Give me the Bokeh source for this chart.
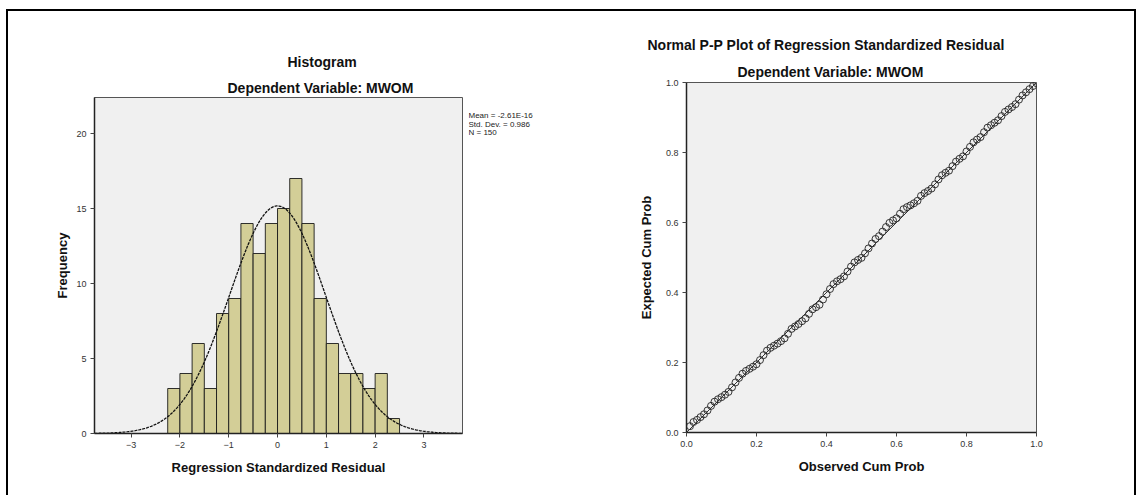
import numpy as np
from bokeh.plotting import figure
from bokeh.layouts import row, column
from bokeh.models import (Slope, FixedTicker, Range1d, Title, Label,
                          PrintfTickFormatter, Spacer)
from bokeh.embed import file_html
from bokeh.resources import INLINE

# ---------------- data ----------------
bin_starts = [-2.25, -2.0, -1.75, -1.5, -1.25, -1.0, -0.75, -0.5, -0.25, 0.0,
              0.25, 0.5, 0.75, 1.0, 1.25, 1.5, 1.75, 2.0, 2.25]
bin_width = 0.25
counts = [3, 4, 6, 3, 8, 9, 14, 12, 14, 15, 17, 14, 9, 6, 4, 4, 3, 4, 1]
resid_mean = 0.0
resid_sd = 0.986
n_obs = 150
legend_lines = ["Mean = -2.61E-16", "Std. Dev. = 0.986", "N = 150"]
hist_xticks = [-3, -2, -1, 0, 1, 2, 3]
hist_yticks = [0, 5, 10, 15, 20]

observed_cum = [0.01, 0.02, 0.03, 0.04, 0.05, 0.06, 0.07, 0.08, 0.09, 0.10,
                0.11, 0.12, 0.13, 0.14, 0.15, 0.16, 0.17, 0.18, 0.19, 0.20,
                0.21, 0.22, 0.23, 0.24, 0.25, 0.26, 0.27, 0.28, 0.29, 0.30,
                0.31, 0.32, 0.33, 0.34, 0.35, 0.36, 0.37, 0.38, 0.39, 0.40,
                0.41, 0.42, 0.43, 0.44, 0.45, 0.46, 0.47, 0.48, 0.49, 0.50,
                0.51, 0.52, 0.53, 0.54, 0.55, 0.56, 0.57, 0.58, 0.59, 0.60,
                0.61, 0.62, 0.63, 0.64, 0.65, 0.66, 0.67, 0.68, 0.69, 0.70,
                0.71, 0.72, 0.73, 0.74, 0.75, 0.76, 0.77, 0.78, 0.79, 0.80,
                0.81, 0.82, 0.83, 0.84, 0.85, 0.86, 0.87, 0.88, 0.89, 0.90,
                0.91, 0.92, 0.93, 0.94, 0.95, 0.96, 0.97, 0.98, 0.99, 1.00]
expected_cum = [0.018, 0.030, 0.036, 0.044, 0.052, 0.063, 0.076, 0.088, 0.095, 0.101,
                0.108, 0.116, 0.129, 0.143, 0.156, 0.168, 0.176, 0.182, 0.188, 0.195,
                0.207, 0.221, 0.234, 0.242, 0.248, 0.254, 0.261, 0.269, 0.282, 0.296,
                0.303, 0.310, 0.318, 0.326, 0.339, 0.352, 0.358, 0.365, 0.380, 0.395,
                0.410, 0.424, 0.432, 0.438, 0.446, 0.460, 0.474, 0.486, 0.493, 0.499,
                0.512, 0.526, 0.540, 0.553, 0.561, 0.574, 0.587, 0.599, 0.606, 0.612,
                0.625, 0.638, 0.644, 0.649, 0.655, 0.662, 0.676, 0.684, 0.690, 0.697,
                0.709, 0.723, 0.735, 0.742, 0.748, 0.761, 0.774, 0.782, 0.789, 0.803,
                0.816, 0.829, 0.837, 0.844, 0.858, 0.871, 0.878, 0.885, 0.892, 0.904,
                0.916, 0.923, 0.930, 0.938, 0.951, 0.963, 0.972, 0.981, 0.990, 0.998]
pp_ticks = [0.0, 0.2, 0.4, 0.6, 0.8, 1.0]

FONT = "Liberation Sans"
BG = "#f0f0f0"
BAR = "#d3ce97"


def style_axes(p):
    for ax in (p.xaxis[0], p.yaxis[0]):
        ax.axis_line_color = "#222222"
        ax.axis_line_width = 1.5
        ax.major_tick_line_color = "#444444"
        ax.major_tick_out = 4
        ax.major_tick_in = 0
        ax.minor_tick_line_color = None
        ax.major_label_text_font = FONT
        ax.major_label_text_font_size = "9px"
        ax.major_label_text_color = "#333333"
        ax.major_label_standoff = 4
        ax.axis_label_text_font = FONT
        ax.axis_label_text_font_size = "13px"
        ax.axis_label_text_font_style = "bold"
        ax.axis_label_text_color = "#111111"
    p.grid.visible = False
    p.background_fill_color = BG
    p.border_fill_color = "white"
    p.outline_line_color = "#555555"
    p.outline_line_width = 1


def add_titles(p, main, sub, main_off, sub_off, sub_stand, main_stand):
    p.add_layout(Title(text=sub, align="left", offset=sub_off, standoff=sub_stand,
                       text_font=FONT, text_font_size="14px", text_font_style="bold",
                       text_color="#111111"), "above")
    p.add_layout(Title(text=main, align="left", offset=main_off, standoff=main_stand,
                       text_font=FONT, text_font_size="14px", text_font_style="bold",
                       text_color="#111111"), "above")


# ---------------- histogram ----------------
p1 = figure(width=460, height=469, output_backend="svg", toolbar_location=None,
            x_range=Range1d(-3.75, 3.79), y_range=Range1d(0, 22.4),
            min_border_left=86, min_border_right=6, min_border_top=71,
            min_border_bottom=62)
style_axes(p1)
left = np.array(bin_starts)
p1.quad(left=left, right=left + bin_width, bottom=0, top=counts,
        fill_color=BAR, line_color="#1a1a1a", line_width=0.9)

xs = np.linspace(-3.75, 3.79, 300)
pdf = n_obs * bin_width * np.exp(-0.5 * ((xs - resid_mean) / resid_sd) ** 2) / (resid_sd * np.sqrt(2 * np.pi))
p1.line(xs, pdf, line_color="#111111", line_width=1.3, line_dash="3 1")

p1.xaxis.ticker = FixedTicker(ticks=hist_xticks)
p1.yaxis.ticker = FixedTicker(ticks=hist_yticks)
p1.xaxis.axis_label = "Regression Standardized Residual"
p1.yaxis.axis_label = "Frequency"
p1.xaxis.axis_label_standoff = 9
p1.yaxis.axis_label_standoff = 3
add_titles(p1, "Histogram", "Dependent Variable: MWOM", 193, 133, 3, 14)

# ---------------- histogram statistics box ----------------
pl = figure(width=118, height=35, output_backend="svg", toolbar_location=None,
            x_range=Range1d(0, 118), y_range=Range1d(0, 35),
            min_border=0, x_axis_type=None, y_axis_type=None)
pl.grid.visible = False
pl.outline_line_color = None
pl.background_fill_color = "white"
pl.border_fill_color = "white"
for i, t in enumerate(legend_lines):
    pl.add_layout(Label(x=0, y=26 - 8.5 * i, text=t, text_align="left",
                        text_baseline="middle", text_font=FONT, text_font_size="8px",
                        text_color="#222222"))

# ---------------- P-P plot ----------------
p2 = figure(width=548, height=483, output_backend="svg", toolbar_location=None,
            x_range=Range1d(0, 1), y_range=Range1d(0, 1),
            min_border_left=100, min_border_right=98, min_border_top=71,
            min_border_bottom=62)
style_axes(p2)
p2.add_layout(Slope(gradient=1, y_intercept=0, line_color="#333333", line_width=1))
p2.scatter(observed_cum, expected_cum, marker="circle", size=7,
           fill_color=None, line_color="#222222", line_width=0.9)
p2.xaxis.ticker = FixedTicker(ticks=pp_ticks)
p2.yaxis.ticker = FixedTicker(ticks=pp_ticks)
p2.xaxis.formatter = PrintfTickFormatter(format="%.1f")
p2.yaxis.formatter = PrintfTickFormatter(format="%.1f")
p2.xaxis.axis_label = "Observed Cum Prob"
p2.yaxis.axis_label = "Expected Cum Prob"
p2.xaxis.axis_label_standoff = 9
p2.yaxis.axis_label_standoff = 9
add_titles(p2, "Normal P-P Plot of Regression Standardized Residual",
           "Dependent Variable: MWOM", -39, 51, 5, 14)

layout = row(column(Spacer(width=460, height=15), p1),
             column(Spacer(width=118, height=95), pl),
             p2,
             styles={"border-top": "2px solid black",
                     "border-left": "2px solid black",
                     "border-right": "2px solid black",
                     "margin-left": "6px", "margin-top": "9px"})

with open("out.html", "w") as f:
    f.write(file_html(layout, INLINE))
